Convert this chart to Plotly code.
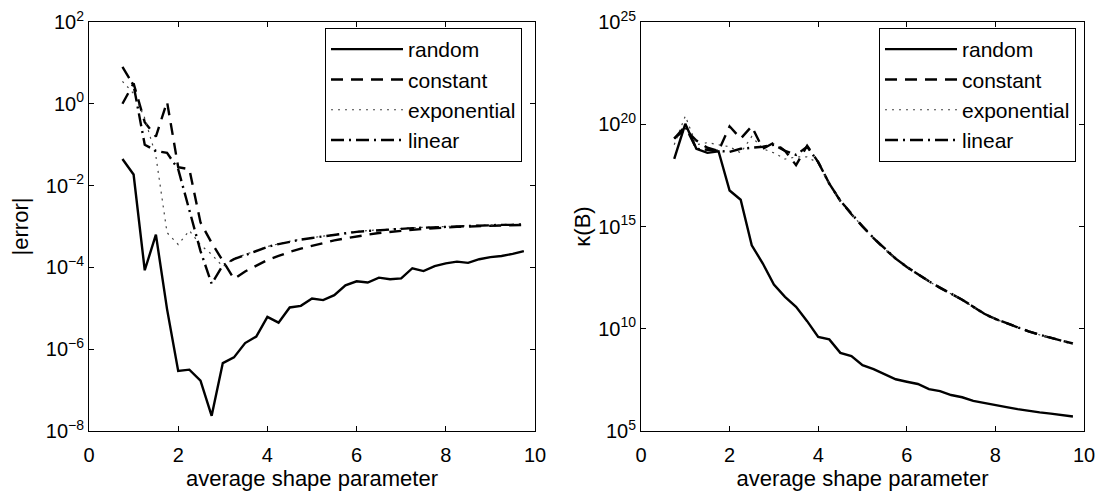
import plotly.graph_objects as go

# shape parameter grid
shape = [0.75, 1.0, 1.25, 1.5, 1.75, 2.0, 2.25, 2.5, 2.75, 3.0, 3.25, 3.5, 3.75,
         4.0, 4.25, 4.5, 4.75, 5.0, 5.25, 5.5, 5.75, 6.0, 6.25, 6.5, 6.75, 7.0,
         7.25, 7.5, 7.75, 8.0, 8.25, 8.5, 8.75, 9.0, 9.25, 9.5, 9.75]

# left panel: log10 |error|
err_random = [-1.35, -1.73, -4.07, -3.2, -5.02, -6.53, -6.5, -6.77, -7.63, -6.34, -6.2, -5.85, -5.69,
              -5.21, -5.35, -4.98, -4.94, -4.76, -4.8, -4.68, -4.44, -4.34, -4.37, -4.25, -4.29, -4.27,
              -4.02, -4.09, -3.97, -3.9, -3.86, -3.89, -3.8, -3.75, -3.72, -3.67, -3.6]
err_constant = [0.0, 0.5, -0.45, -0.8, 0.05, -1.55, -1.6, -2.9, -3.4, -3.85, -4.28, -4.1, -3.95,
                -3.82, -3.72, -3.62, -3.54, -3.47, -3.4, -3.34, -3.29, -3.24, -3.2, -3.16, -3.13, -3.1,
                -3.08, -3.06, -3.04, -3.03, -3.01, -3.0, -2.99, -2.98, -2.97, -2.97, -2.96]
err_exponential = [0.55, 0.25, -0.35, -1.28, -3.15, -3.44, -3.1, -3.45, -3.68, -3.98, -3.78, -3.69, -3.59,
                   -3.49, -3.42, -3.36, -3.31, -3.27, -3.23, -3.19, -3.16, -3.12, -3.1, -3.08, -3.06, -3.04,
                   -3.03, -3.02, -3.01, -2.99, -2.98, -2.97, -2.96, -2.96, -2.95, -2.95, -2.94]
err_linear = [0.9, 0.45, -1.0, -1.15, -1.2, -1.6, -2.6, -3.6, -4.4, -3.95, -3.8, -3.7, -3.6,
              -3.5, -3.43, -3.37, -3.32, -3.28, -3.24, -3.2, -3.17, -3.13, -3.11, -3.09, -3.07, -3.05,
              -3.04, -3.03, -3.02, -3.0, -2.99, -2.98, -2.97, -2.97, -2.96, -2.96, -2.95]

# right panel: log10 kappa(B)
kap_random = [18.31, 20.02, 18.8, 18.6, 18.68, 16.76, 16.31, 14.08, 13.19, 12.16, 11.56, 11.07, 10.37,
              9.6, 9.48, 8.82, 8.66, 8.22, 8.03, 7.78, 7.53, 7.41, 7.3, 7.05, 6.95, 6.76,
              6.65, 6.47, 6.38, 6.27, 6.17, 6.07, 5.98, 5.91, 5.85, 5.77, 5.71]
kap_constant = [19.3, 19.75, 19.2, 18.85, 18.7, 19.9, 19.3, 19.9, 18.8, 19.1, 18.7, 18.0, 18.95,
                18.15, 17.1, 16.25, 15.6, 15.0, 14.43, 13.9, 13.43, 13.02, 12.65, 12.32, 12.0, 11.72,
                11.42, 11.08, 10.72, 10.48, 10.27, 10.06, 9.87, 9.7, 9.55, 9.41, 9.28]
kap_exponential = [19.0, 20.4, 19.0, 19.1, 19.0, 18.9, 18.6, 19.4, 18.8, 18.6, 18.3, 18.4, 18.4,
                   18.1, 17.08, 16.24, 15.6, 14.99, 14.42, 13.9, 13.42, 13.01, 12.64, 12.31, 12.0, 11.71,
                   11.41, 11.07, 10.72, 10.47, 10.26, 10.05, 9.86, 9.7, 9.55, 9.4, 9.27]
kap_linear = [19.3, 19.9, 18.8, 18.75, 18.7, 18.65, 18.8, 18.85, 18.9, 19.0, 18.7, 18.5, 18.9,
              18.15, 17.1, 16.26, 15.61, 15.0, 14.44, 13.91, 13.43, 13.02, 12.66, 12.32, 12.01, 11.72,
              11.42, 11.08, 10.73, 10.48, 10.27, 10.06, 9.87, 9.71, 9.55, 9.41, 9.28]

series_names = ["random", "constant", "exponential", "linear"]
left_tick_exps = [-8, -6, -4, -2, 0, 2]
right_tick_exps = [5, 10, 15, 20, 25]
x_ticks = [0, 2, 4, 6, 8, 10]

FONT = "Arial, Liberation Sans, Helvetica, sans-serif"
styles = {
    "random": dict(color="black", width=2.4, dash="solid"),
    "constant": dict(color="black", width=2.4, dash="12px,8px"),
    "exponential": dict(color="#444444", width=1.2, dash="2px,5px"),
    "linear": dict(color="black", width=2.4, dash="13px,5px,2px,5px"),
}

def sup(e):
    s = str(e).replace("-", "\u2212")
    return "10<sup>" + s + "</sup>"

fig = go.Figure()
left = [err_random, err_constant, err_exponential, err_linear]
right = [kap_random, kap_constant, kap_exponential, kap_linear]
for name, vals in zip(series_names, left):
    fig.add_trace(go.Scatter(x=shape, y=[10.0 ** v for v in vals], mode="lines", name=name,
                             line=styles[name], xaxis="x", yaxis="y", legend="legend"))
for name, vals in zip(series_names, right):
    fig.add_trace(go.Scatter(x=shape, y=[10.0 ** v for v in vals], mode="lines", name=name,
                             line=styles[name], xaxis="x2", yaxis="y2", legend="legend2"))

# page body adds an 8 px offset, so the figure is 8 px smaller than the window
W, H = 1103, 489
OFF = 8
ydom = [1 - (431 - OFF) / H, 1 - (22 - OFF) / H]
axis_common = dict(showline=True, linecolor="black", linewidth=1, mirror="ticks",
                   ticks="inside", ticklen=5, tickcolor="black", showgrid=False, zeroline=False,
                   automargin=False, ticklabeloverflow="allow",
                   tickfont=dict(family=FONT, size=20, color="black"))
title_font = dict(family=FONT, size=22, color="black")
legend_common = dict(xanchor="right", y=1 - (28 - OFF) / H, yanchor="top",
                     bordercolor="black", borderwidth=1, bgcolor="white", itemwidth=72,
                     font=dict(family=FONT, size=21, color="black"), tracegroupgap=0)

fig.update_layout(
    width=W, height=H, margin=dict(l=0, r=0, t=0, b=0, autoexpand=False),
    paper_bgcolor="white", plot_bgcolor="white",
    font=dict(family=FONT, size=20, color="black"),
    xaxis=dict(domain=[(89 - OFF) / W, (535 - OFF) / W], range=[0, 10], tickvals=x_ticks, anchor="y",
               ticklabelstandoff=6,
               title=dict(text="average shape parameter", standoff=5, font=title_font), **axis_common),
    yaxis=dict(domain=ydom, type="log", range=[-8, 2], anchor="x",
               tickvals=[10.0 ** e for e in left_tick_exps],
               ticktext=[sup(e) for e in left_tick_exps],
               title=dict(text="|error|", standoff=13, font=title_font), **axis_common),
    xaxis2=dict(domain=[(641 - OFF) / W, (1084 - OFF) / W], range=[0, 10], tickvals=x_ticks, anchor="y2",
                ticklabelstandoff=6,
                title=dict(text="average shape parameter", standoff=5, font=title_font), **axis_common),
    yaxis2=dict(domain=ydom, type="log", range=[5, 25], anchor="x2",
                tickvals=[10.0 ** e for e in right_tick_exps],
                ticktext=[sup(e) for e in right_tick_exps],
                title=dict(text="\u03ba(B)", standoff=1, font=title_font), **axis_common),
    legend=dict(x=(522 - OFF) / W, **legend_common),
    legend2=dict(x=(1076 - OFF) / W, **legend_common),
    showlegend=True,
)

fig.write_html("out.html")
